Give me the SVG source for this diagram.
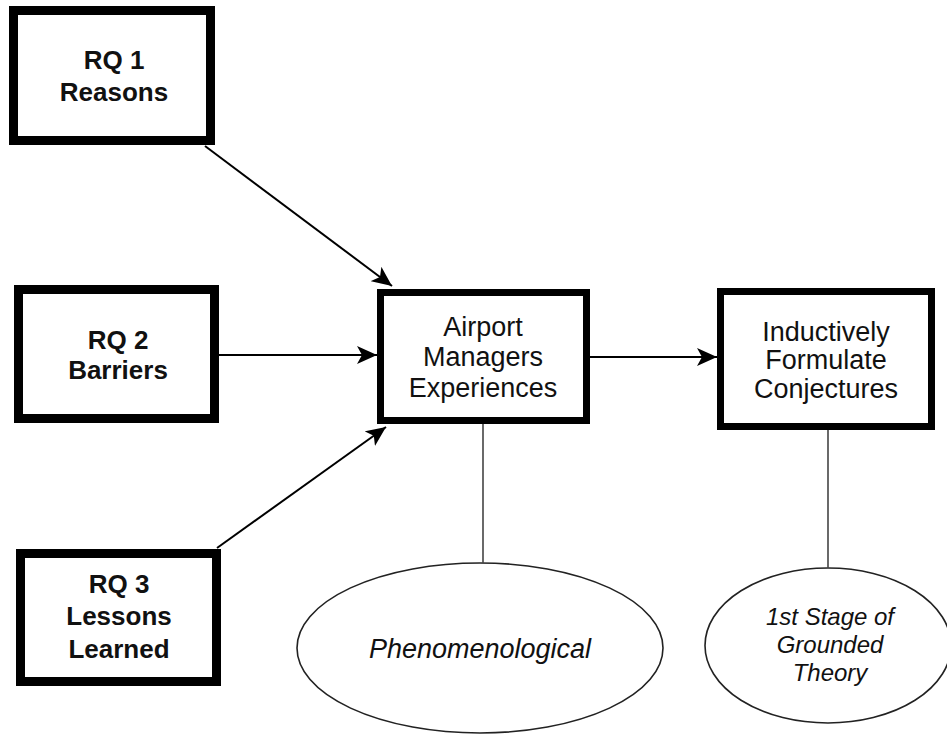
<svg xmlns="http://www.w3.org/2000/svg" width="947" height="736" viewBox="0 0 947 736">
<defs>
<style>
.box{fill:#fff;stroke:#000;}
.thick{stroke-width:9;}
.mid{stroke-width:7;}
.ell{fill:#fff;stroke:#222;stroke-width:1.6;}
.b{font-family:"Liberation Sans",Arial,sans-serif;font-weight:bold;font-size:26px;fill:#111;text-anchor:middle;}
.r{font-family:"Liberation Sans",Arial,sans-serif;font-size:27px;fill:#111;text-anchor:middle;}
.i{font-family:"Liberation Sans",Arial,sans-serif;font-style:italic;fill:#111;text-anchor:middle;}
.arr{stroke:#000;stroke-width:2;fill:none;marker-end:url(#ah);}
.ln{stroke:#444;stroke-width:1.6;fill:none;}
</style>
<marker id="ah" viewBox="0 0 20 18" refX="20" refY="9" markerWidth="20" markerHeight="18" markerUnits="userSpaceOnUse" orient="auto">
<path d="M0,0 L20,9 L0,18 L5,9 Z" fill="#000"/>
</marker>
</defs>
<rect width="947" height="736" fill="#fff"/>
<g id="rq1">
<rect class="box thick" x="13.5" y="10.5" width="197" height="130"/>
<text class="b" x="114" y="69">RQ 1</text>
<text class="b" x="114" y="101">Reasons</text>
</g>
<g id="rq2">
<rect class="box thick" x="18.5" y="289.5" width="196" height="129"/>
<text class="b" x="118" y="349">RQ 2</text>
<text class="b" x="118" y="379">Barriers</text>
</g>
<g id="rq3">
<rect class="box thick" x="20.5" y="553.5" width="196" height="128"/>
<text class="b" x="119" y="593">RQ 3</text>
<text class="b" x="119" y="625">Lessons</text>
<text class="b" x="119" y="658">Learned</text>
</g>
<g id="airport">
<rect class="box mid" x="380.5" y="292.5" width="206" height="128"/>
<text class="r" x="483" y="336">Airport</text>
<text class="r" x="483" y="366">Managers</text>
<text class="r" x="483" y="397">Experiences</text>
</g>
<g id="inductive">
<rect class="box mid" x="720.5" y="291.5" width="211" height="135"/>
<text class="r" x="826" y="341">Inductively</text>
<text class="r" x="826" y="369">Formulate</text>
<text class="r" x="826" y="398">Conjectures</text>
</g>
<g id="phenom">
<ellipse class="ell" cx="480" cy="648" rx="183" ry="85"/>
<text class="i" x="480" y="658" font-size="27">Phenomenological</text>
</g>
<g id="grounded">
<ellipse class="ell" cx="828" cy="645.5" rx="123" ry="77.5"/>
<text class="i" x="830" y="625" font-size="24">1st Stage of</text>
<text class="i" x="830" y="653" font-size="24">Grounded</text>
<text class="i" x="830" y="681" font-size="24">Theory</text>
</g>
<g id="connectors">
<line class="arr" x1="205" y1="146" x2="392" y2="286"/>
<line class="arr" x1="219" y1="355" x2="377" y2="355"/>
<line class="arr" x1="217" y1="548" x2="386" y2="427"/>
<line class="arr" x1="590" y1="357" x2="717" y2="357"/>
<line class="ln" x1="483" y1="424" x2="483" y2="563"/>
<line class="ln" x1="828" y1="430" x2="828" y2="568"/>
</g>
</svg>
